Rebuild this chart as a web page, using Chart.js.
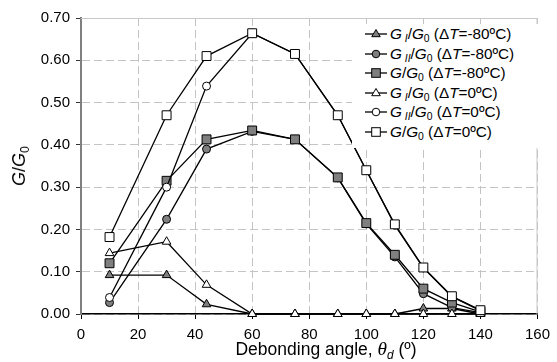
<!DOCTYPE html>
<html>
<head>
<meta charset="utf-8">
<script src="https://cdn.jsdelivr.net/npm/chart.js@4/dist/chart.umd.min.js"></script>
<style>
html,body{margin:0;padding:0;background:#fff;}
#wrap{position:relative;width:557px;height:362px;font-family:"Liberation Sans",Arial,sans-serif;color:#000;overflow:hidden;}
canvas{position:absolute;left:0;top:0;}
.sub{font-size:0.68em;position:relative;top:0.32em;}
#ytitle{position:absolute;left:20px;top:166px;transform:translate(-50%,-50%) rotate(-90deg);font-size:18px;white-space:nowrap;line-height:20px;}
#xtitle{position:absolute;left:326px;top:350px;transform:translate(-50%,-50%);font-size:17.5px;white-space:nowrap;line-height:20px;}
#xtitle .th{font-family:"Liberation Serif","Times New Roman",serif;font-style:italic;font-size:1.1em;}
#legend{position:absolute;left:352px;top:24px;width:193px;height:124px;background:#fff;font-size:15.3px;}
.row{position:absolute;left:0;width:193px;height:20px;line-height:20px;white-space:nowrap;}
.row svg{position:absolute;left:13px;top:0;}
.row .txt{position:absolute;left:38px;top:0;}
</style>
</head>
<body>
<div id="wrap">
<canvas id="c" width="557" height="362"></canvas>
<div id="ytitle"><i>G</i>/<i>G</i><span class="sub">0</span></div>
<div id="xtitle">Debonding angle, <span class="th">θ</span><span class="sub"><i>d</i></span> (º)</div>
<div id="legend"></div>
</div>
<script>
// ---- data ----
const angles = [10, 30, 44, 60, 75, 90, 100, 110, 120, 130, 140];
const GI_m80  = [0.092, 0.092, 0.023, 0.000, 0.000, 0.000, 0.000, 0.000, 0.013, 0.013, 0.000];
const GII_m80 = [0.027, 0.224, 0.390, 0.432, 0.413, 0.322, 0.213, 0.135, 0.048, 0.015, 0.003];
const G_m80   = [0.120, 0.315, 0.413, 0.434, 0.413, 0.323, 0.215, 0.140, 0.060, 0.027, 0.005];
const GI_0    = [0.144, 0.171, 0.069, 0.000, 0.000, 0.000, 0.000, 0.000, 0.000, 0.000, 0.000];
const GII_0   = [0.039, 0.300, 0.539, 0.664, 0.615, 0.470, 0.340, 0.210, 0.109, 0.041, 0.008];
const G_0     = [0.182, 0.470, 0.610, 0.664, 0.615, 0.470, 0.340, 0.212, 0.110, 0.042, 0.009];
const xTicks = [0, 20, 40, 60, 80, 100, 120, 140, 160];
const yTicks = [0.00, 0.10, 0.20, 0.30, 0.40, 0.50, 0.60, 0.70];
const seriesLabels = [
  '<i>G</i><span class="sub"> <i>I</i></span>/<i>G</i><span class="sub">0</span> (Δ<i>T</i>=-80ºC)',
  '<i>G</i><span class="sub"> <i>II</i></span>/<i>G</i><span class="sub">0</span> (Δ<i>T</i>=-80ºC)',
  '<i>G</i>/<i>G</i><span class="sub">0</span> (Δ<i>T</i>=-80ºC)',
  '<i>G</i><span class="sub"> <i>I</i></span>/<i>G</i><span class="sub">0</span> (Δ<i>T</i>=0ºC)',
  '<i>G</i><span class="sub"> <i>II</i></span>/<i>G</i><span class="sub">0</span> (Δ<i>T</i>=0ºC)',
  '<i>G</i>/<i>G</i><span class="sub">0</span> (Δ<i>T</i>=0ºC)'
];
const plainLabels = ['GI/G0 (ΔT=-80ºC)','GII/G0 (ΔT=-80ºC)','G/G0 (ΔT=-80ºC)','GI/G0 (ΔT=0ºC)','GII/G0 (ΔT=0ºC)','G/G0 (ΔT=0ºC)'];

const GREY = '#7f7f7f';
const styles = [
  {shape:'triangle', fill:GREY, r:5},
  {shape:'circle', fill:GREY, r:4},
  {shape:'rect', fill:GREY, r:6.3},
  {shape:'triangle', fill:'#ffffff', r:5},
  {shape:'circle', fill:'#ffffff', r:4},
  {shape:'rect', fill:'#ffffff', r:6.3}
];
const values = [GI_m80, GII_m80, G_m80, GI_0, GII_0, G_0];

const datasets = values.map((vals, i) => ({
  label: plainLabels[i],
  data: angles.map((a, j) => ({x: a, y: vals[j]})),
  borderColor: '#000',
  borderWidth: 1.3,
  pointStyle: styles[i].shape,
  pointRadius: styles[i].r,
  pointBackgroundColor: styles[i].fill,
  pointBorderColor: '#000',
  pointBorderWidth: 1,
  tension: 0,
  fill: false,
  clip: false,
  order: values.length - 1 - i
}));

const frame = {
  id: 'frame',
  beforeDatasetsDraw(chart) {
    const {ctx, chartArea: a} = chart;
    ctx.save();
    ctx.strokeStyle = '#c8c8c8';
    ctx.lineWidth = 1;
    ctx.beginPath();
    ctx.moveTo(a.left, a.top + 0.5);
    ctx.lineTo(a.right - 0.5, a.top + 0.5);
    ctx.lineTo(a.right - 0.5, a.bottom);
    ctx.stroke();
    ctx.restore();
  }
};

const tickFont = {family: '"Liberation Sans", Arial, sans-serif', size: 15};

new Chart(document.getElementById('c'), {
  type: 'line',
  data: {datasets},
  options: {
    responsive: false,
    animation: false,
    events: [],
    layout: {padding: {left: 0, right: 11, top: 18, bottom: 0}},
    plugins: {legend: {display: false}, tooltip: {enabled: false}},
    scales: {
      x: {
        type: 'linear',
        min: xTicks[0], max: xTicks[xTicks.length - 1],
        afterBuildTicks(s) { s.ticks = xTicks.map(v => ({value: v})); },
        afterFit(s) { s.height = 48; },
        ticks: {font: tickFont, color: '#000', padding: 7, maxRotation: 0, callback: v => String(v)},
        grid: {color: '#c4c4c4', lineWidth: 1, tickLength: 5, tickColor: '#000', tickWidth: 1},
        border: {color: '#000', width: 1.5, dash: [8, 4]}
      },
      y: {
        min: yTicks[0], max: yTicks[yTicks.length - 1],
        afterBuildTicks(s) { s.ticks = yTicks.map(v => ({value: v})); },
        afterFit(s) { s.width = 81; },
        ticks: {font: tickFont, color: '#000', padding: 6, callback: v => Number(v).toFixed(2)},
        grid: {color: '#c4c4c4', lineWidth: 1, tickLength: 5, tickColor: '#333', tickWidth: 1},
        border: {color: '#808080', width: 2, dash: [8, 4]}
      }
    }
  },
  plugins: [frame]
});

// ---- HTML legend ----
function markerSVG(st) {
  const cx = 11, cy = 10;
  let m = '';
  if (st.shape === 'triangle') {
    const r = 4.5;
    m = `<polygon points="${cx},${cy - r} ${cx + r * 0.95},${cy + r * 0.6} ${cx - r * 0.95},${cy + r * 0.6}" fill="${st.fill}" stroke="#000" stroke-width="1"/>`;
  } else if (st.shape === 'circle') {
    m = `<circle cx="${cx}" cy="${cy}" r="3.8" fill="${st.fill}" stroke="#000" stroke-width="1"/>`;
  } else {
    m = `<rect x="${cx - 4.3}" y="${cy - 4.3}" width="8.6" height="8.6" fill="${st.fill}" stroke="#000" stroke-width="1"/>`;
  }
  return `<svg width="24" height="20"><line x1="0" y1="${cy}" x2="22" y2="${cy}" stroke="#000" stroke-width="1.3"/>${m}</svg>`;
}
const leg = document.getElementById('legend');
seriesLabels.forEach((lab, i) => {
  const row = document.createElement('div');
  row.className = 'row';
  row.style.top = (i * 19.5) + 'px';
  row.innerHTML = markerSVG(styles[i]) + `<span class="txt">${lab}</span>`;
  leg.appendChild(row);
});
</script>
</body>
</html>
